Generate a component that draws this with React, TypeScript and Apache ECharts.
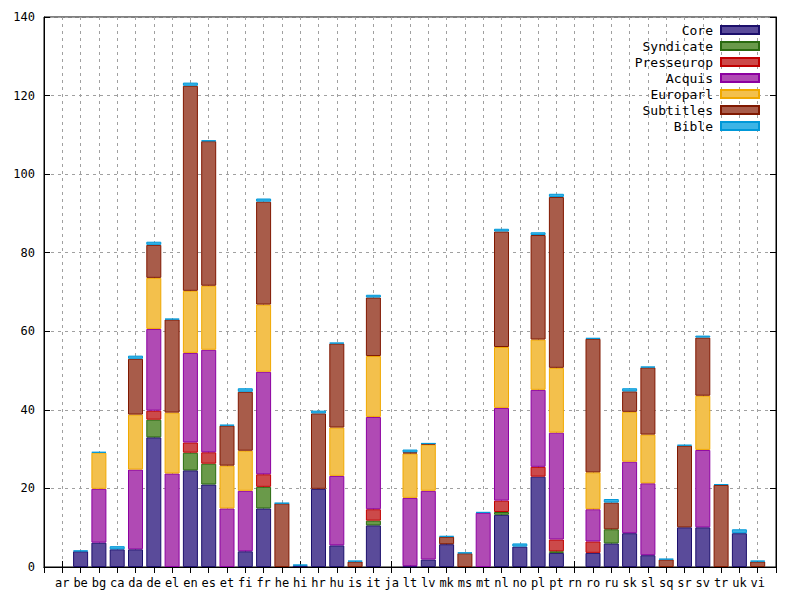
import React, { useEffect, useRef } from "react";
import * as echarts from "echarts";

const categories = ["ar","be","bg","ca","da","de","el","en","es","et","fi","fr","he","hi","hr","hu","is","it","ja","lt","lv","mk","ms","mt","nl","no","pl","pt","rn","ro","ru","sk","sl","sq","sr","sv","tr","uk","vi"];

//                 ar   be   bg   ca   da   de    el   en    es    et   fi   fr    he   hi   hr    hu   is   it    ja  lt   lv   mk   ms   mt   nl    no   pl    pt   rn  ro   ru   sk   sl   sq  sr    sv    tr   uk   vi
const core =      [0,   4.0, 6.2, 4.5, 4.5, 33.0, 0,   24.6, 21.0, 0,   4.0, 14.9, 0,   0.4, 19.9, 5.5, 0,   10.6, 0,  0.2, 1.9, 5.8, 0,   0,   13.3, 5.2, 23.0, 3.6, 0,  3.6, 6.0, 8.6, 3.0, 0,  10.1, 10.1, 0,   8.6, 0];
const syndicate = [0,   0,   0,   0,   0,   4.5,  0,   4.5,  5.3,  0,   0,   5.5,  0,   0,   0,    0,   0,   1.2,  0,  0,   0,   0,   0,   0,   0.7,  0,   0,    0.4, 0,  0,   3.6, 0,   0,   0,  0,    0,    0,   0,   0];
const presseurop =[0,   0,   0,   0,   0,   2.3,  0,   2.6,  2.9,  0,   0,   3.2,  0,   0,   0,    0,   0,   2.9,  0,  0,   0,   0,   0,   0,   2.9,  0,   2.5,  3.0, 0,  2.9, 0,   0,   0,   0,  0,    0,    0,   0,   0];
const acquis =    [0,   0,   13.7,0,   20.3,20.8, 23.8,22.8, 26.1, 14.9,15.4,26.1, 0,   0,   0,    17.7,0,   23.5, 0,  17.4,17.5,0,   0,   13.8,23.6, 0,   19.6, 27.2,0,  8.2, 0,   18.2,18.3,0,  0,    19.7, 0,   0,   0];
const europarl =  [0,   0,   9.2, 0,   14.0,13.0, 15.5,15.8, 16.3, 10.9,10.2,17.1, 0,   0,   0,    12.3,0,   15.5, 0,  11.3,11.8,0,   0,   0,   15.5, 0,   12.8, 16.5,0,  9.4, 0,   12.7,12.4,0,  0,    13.8, 0,   0,   0];
const subtitles = [0,   0,   0,   0,   14.2,8.4,  23.7,52.2, 36.8, 10.2,15.0,26.2, 16.2,0,   19.2, 21.4,1.4, 14.9, 0,  0.3, 0.2, 1.9, 3.5, 0,   29.4, 0,   26.6, 43.5,0,  34.0,6.8, 5.2, 17.1,1.9,20.8, 14.8, 20.9,0,   1.4];
const bible =     [0,   0.2, 0.2, 0.8, 0.8, 0.8,  0.2, 0.8,  0.2,  0.2, 0.9, 0.8,  0.1, 0.2, 0.7,  0.2, 0.2, 0.7,  0,  0.7, 0.1, 0.2, 0.2, 0.2, 0.7,  0.8, 0.7,  0.8, 0,  0.2, 0.9, 0.8, 0.2, 0.2,0.2,  0.5,  0.2, 1.0, 0.2];

const seriesNames = ["Core","Syndicate","Presseurop","Acquis","Europarl","Subtitles","Bible"];
const seriesValues = [core, syndicate, presseurop, acquis, europarl, subtitles, bible];
const fills = ["#5a4b9a","#6a9a4a","#cc4a4a","#b04ab4","#f3c04c","#a85c4a","#3cb4e6"];
const borders = ["#1c0f6c","#2a6a10","#c00000","#8c00a0","#f0a800","#801800","#0098d8"];

const yTicks = { min: 0, max: 140, interval: 20 };

export default function App() {
  const ref = useRef<HTMLDivElement>(null);
  useEffect(() => {
    if (!ref.current) return;
    const chart = echarts.init(ref.current, null, { renderer: "svg" });
    const cats = ["", ...categories, ""];
    const font = "DejaVu Sans Mono";
    const dotted = { show: true, lineStyle: { color: "#a0a0a0", type: [3, 4] as any, width: 1 } };
    chart.setOption({
      animation: false,
      backgroundColor: "#ffffff",
      textStyle: { fontFamily: font, color: "#000" },
      grid: { left: 44, right: 24, top: 17, bottom: 33, show: true, borderColor: "#000", borderWidth: 1, backgroundColor: "transparent" },
      legend: {
        data: seriesNames.map((n) => ({ name: n, icon: "rect" })),
        orient: "vertical",
        align: "right",
        right: 40,
        top: 23,
        padding: 0,
        itemWidth: 38,
        itemHeight: 8,
        itemGap: 2,
        textStyle: { fontFamily: font, fontSize: 13, color: "#000", lineHeight: 14, padding: [0, 3, 0, 0] },
      },
      xAxis: [
        {
          type: "category",
          data: cats,
          boundaryGap: false,
          axisLine: { show: true, lineStyle: { color: "#000" } },
          axisTick: { show: true, inside: true, length: 6, interval: 0, lineStyle: { color: "#000" } },
          axisLabel: { interval: 0, color: "#000", fontFamily: font, fontSize: 12, margin: 10 },
          splitLine: { ...dotted, interval: 0 },
        },
        {
          type: "category",
          position: "top",
          data: cats,
          boundaryGap: false,
          axisLine: { show: true, lineStyle: { color: "#000" } },
          axisTick: { show: true, inside: true, length: 6, interval: 0, lineStyle: { color: "#000" } },
          axisLabel: { show: false },
          splitLine: { show: false },
        },
      ],
      yAxis: [
        {
          type: "value",
          ...yTicks,
          axisLine: { show: true, lineStyle: { color: "#000" } },
          axisTick: { show: true, inside: true, length: 6, lineStyle: { color: "#000" } },
          axisLabel: { color: "#000", fontFamily: font, fontSize: 12, margin: 9 },
          splitLine: dotted,
        },
        {
          type: "value",
          ...yTicks,
          position: "right",
          axisLine: { show: true, lineStyle: { color: "#000" } },
          axisTick: { show: true, inside: true, length: 6, lineStyle: { color: "#000" } },
          axisLabel: { show: false },
          splitLine: { show: false },
        },
      ],
      series: seriesNames.map((name, i) => ({
        name,
        type: "bar",
        stack: "total",
        xAxisIndex: 0,
        yAxisIndex: 0,
        barWidth: 15,
        data: ["-", ...seriesValues[i].map((v) => (v > 0 ? v : "-")), "-"],
        itemStyle: { color: fills[i], borderColor: borders[i], borderWidth: 1 },
      })),
    });
    return () => chart.dispose();
  }, []);
  return <div ref={ref} style={{ position: "absolute", left: 0, top: 0, width: 800, height: 600 }} />;
}
